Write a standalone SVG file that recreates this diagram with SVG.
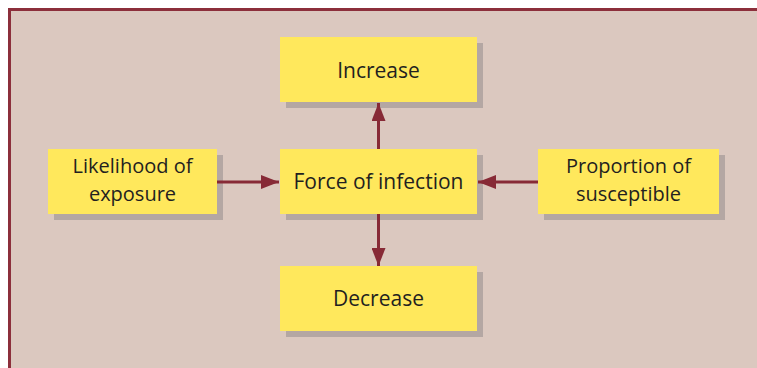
<svg xmlns="http://www.w3.org/2000/svg" width="757" height="368" viewBox="0 0 757 368">
<defs>
<style>
.bg{fill:#dbc8bf;stroke:#8c2f3b;stroke-width:3}
.box{fill:#ffe85c}
.sh{fill:#b4a7a3}
.t{font-family:"Open Sans","Noto Sans",sans-serif;font-size:21px;fill:#231f20;text-anchor:middle}
.t2{font-family:"Open Sans","Noto Sans",sans-serif;font-size:20px;fill:#231f20;text-anchor:middle}
.c{stroke:#872a36;stroke-width:3;fill:none}
</style>
<marker id="ah" viewBox="0 0 18 14" refX="18" refY="7" markerWidth="18" markerHeight="14" markerUnits="userSpaceOnUse" orient="auto">
<path d="M0,0 L18,7 L0,14 Z" fill="#872a36"/>
</marker>
</defs>
<rect class="bg" x="9.5" y="9.5" width="760" height="370"/>
<g id="increase">
<rect class="sh" x="286" y="43" width="197" height="65"/>
<rect class="box" x="280" y="37" width="197" height="65"/>
<text class="t" x="378.5" y="77.5">Increase</text>
</g>
<g id="likelihood">
<rect class="sh" x="54" y="155" width="169" height="65"/>
<rect class="box" x="48" y="149" width="169" height="65"/>
<text class="t2" x="132.5" y="173">Likelihood of</text>
<text class="t2" x="132.5" y="200.5">exposure</text>
</g>
<g id="force">
<rect class="sh" x="286" y="155" width="197" height="65"/>
<rect class="box" x="280" y="149" width="197" height="65"/>
<text class="t" x="378.5" y="188.5">Force of infection</text>
</g>
<g id="proportion">
<rect class="sh" x="544" y="155" width="181" height="65"/>
<rect class="box" x="538" y="149" width="181" height="65"/>
<text class="t2" x="628.5" y="173">Proportion of</text>
<text class="t2" x="628.5" y="200.5">susceptible</text>
</g>
<g id="decrease">
<rect class="sh" x="286" y="272" width="197" height="65"/>
<rect class="box" x="280" y="266" width="197" height="65"/>
<text class="t" x="378.5" y="306">Decrease</text>
</g>
<g id="connectors">
<line class="c" x1="378.5" y1="149" x2="378.5" y2="103" marker-end="url(#ah)"/>
<line class="c" x1="378.5" y1="214" x2="378.5" y2="266" marker-end="url(#ah)"/>
<line class="c" x1="217" y1="182" x2="279" y2="182" marker-end="url(#ah)"/>
<line class="c" x1="538" y1="182" x2="478" y2="182" marker-end="url(#ah)"/>
</g>
</svg>
